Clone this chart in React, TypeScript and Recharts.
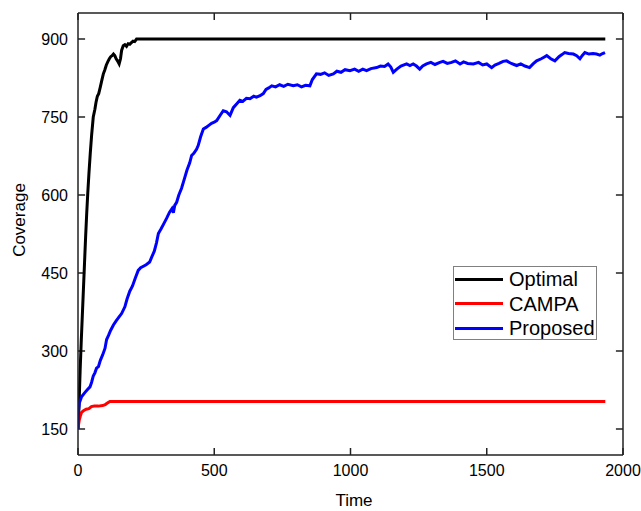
import React from 'react';
import { LineChart, Line, XAxis, YAxis, Legend, Label, ReferenceLine } from 'recharts';

const FONT = '"Liberation Sans", Arial, Helvetica, sans-serif';

const xTicks = [0, 500, 1000, 1500, 2000];
const yTicks = [150, 300, 450, 600, 750, 900];
const xDomain = [0, 2000];
const yDomain = [100, 950];
const xTitle = 'Time';
const yTitle = 'Coverage';
const seriesNames = ['Optimal', 'CAMPA', 'Proposed'];
const seriesColors = ['#000000', '#ff0000', '#0000ff'];

// [time, coverage]
const optimalPoints: [number, number][] = [
  [0, 150], [4, 200], [8, 265], [12, 320], [16, 370], [20, 420], [24, 470], [28, 520],
  [32, 565], [36, 605], [40, 640], [45, 680], [50, 715], [56, 750], [62, 765], [66, 778],
  [71, 790], [76, 795], [82, 808], [88, 822], [93, 833], [98, 840], [104, 850], [110, 857],
  [115, 862], [120, 866], [125, 868], [130, 871], [135, 868], [140, 862], [145, 858],
  [151, 852], [156, 862], [160, 878], [166, 887], [172, 889], [178, 886], [184, 891],
  [190, 890], [196, 893], [202, 896], [208, 895], [215, 900], [1935, 900],
];

const campaPoints: [number, number][] = [
  [0, 150], [2, 158], [5, 168], [8, 174], [13, 182], [20, 185], [30, 188], [40, 189],
  [49, 193], [60, 194], [75, 194], [90, 195], [100, 197], [108, 200], [117, 203], [1935, 203],
];

const proposedPoints: [number, number][] = [
  [0, 150], [2, 185], [5, 200], [13, 212], [25, 220], [35, 226], [44, 231], [50, 240],
  [56, 252], [62, 258], [68, 267], [75, 270], [82, 282], [90, 292], [99, 305], [105, 322],
  [112, 330], [120, 340], [130, 350], [140, 358], [150, 365], [160, 372], [172, 385],
  [180, 400], [190, 415], [200, 425], [210, 440], [221, 455], [230, 460], [240, 463],
  [250, 466], [263, 471], [270, 480], [280, 492], [288, 508], [295, 526], [305, 535],
  [315, 545], [325, 555], [336, 567], [345, 574], [350, 566], [355, 580], [362, 586],
  [370, 600], [380, 613], [392, 634], [400, 648], [410, 662], [417, 676], [425, 680],
  [435, 688], [441, 695], [450, 712], [460, 727], [470, 730], [480, 734], [490, 738],
  [500, 740], [509, 743], [520, 752], [533, 762], [545, 760], [558, 753], [570, 768],
  [582, 775], [594, 782], [605, 780], [618, 786], [631, 785], [645, 790], [655, 788],
  [668, 791], [680, 795], [690, 803], [700, 806], [711, 810], [725, 808], [740, 812],
  [755, 809], [770, 813], [790, 810], [805, 812], [820, 808], [835, 811], [851, 810],
  [860, 822], [875, 833], [890, 832], [905, 835], [920, 830], [937, 833], [950, 838],
  [965, 836], [980, 841], [998, 839], [1015, 842], [1030, 838], [1045, 842], [1059, 839],
  [1075, 843], [1096, 845], [1110, 848], [1125, 847], [1138, 852], [1148, 846], [1157, 836],
  [1170, 842], [1185, 848], [1206, 852], [1218, 849], [1230, 852], [1242, 848], [1254, 842],
  [1265, 848], [1279, 852], [1295, 855], [1310, 851], [1328, 855], [1340, 857], [1355, 853],
  [1371, 855], [1385, 858], [1402, 852], [1415, 856], [1430, 853], [1451, 852], [1470, 855],
  [1485, 850], [1500, 852], [1518, 845], [1530, 850], [1545, 853], [1560, 857], [1573, 858],
  [1590, 853], [1600, 851], [1610, 849], [1625, 852], [1640, 848], [1657, 845], [1670, 852],
  [1683, 858], [1700, 862], [1710, 865], [1720, 868], [1735, 862], [1750, 858], [1765, 866],
  [1776, 870], [1786, 874], [1800, 872], [1818, 871], [1830, 868], [1842, 862], [1850, 868],
  [1860, 874], [1875, 871], [1890, 872], [1903, 871], [1915, 869], [1925, 872], [1934, 874],
];

const toData = (pts: [number, number][]) => pts.map(([t, v]) => ({ t, v }));
const seriesData = [toData(optimalPoints), toData(campaPoints), toData(proposedPoints)];
// every axis shares the same domain; Optimal is bound to the mirrored frame axes
const seriesXAxis = ['top', 'bottom', 'bottom'];
const seriesYAxis = ['right', 'left', 'left'];

const AXIS_COLOR = '#222';
const tickText = { fontSize: 16, fill: '#000', fontFamily: FONT };
// inward tick length, expressed in axis units (~7px)
const X_TICK_LEN = 13.5; // coverage units, for ticks on the bottom/top edges
const Y_TICK_LEN = 26; // time units, for ticks on the left/right edges

const LegendBox = () => (
  <div
    style={{
      width: 144,
      height: 74,
      border: '1px solid #808080',
      boxSizing: 'border-box',
      background: '#fff',
      fontFamily: FONT,
      fontSize: 20,
      color: '#000',
    }}
  >
    {seriesNames.map((n, i) => (
      <div key={n} style={{ display: 'flex', alignItems: 'center', height: 24.5, lineHeight: '24.5px' }}>
        <div style={{ width: 48, height: 3, background: seriesColors[i], marginLeft: 1, marginRight: 6 }} />
        <span>{n}</span>
      </div>
    ))}
  </div>
);

const YTitle = () => (
  <text x={19} y={220} transform="rotate(-90 19 220)" textAnchor="middle" dominantBaseline="central"
    style={{ fontSize: 17, fontFamily: FONT, fill: '#000' }}>{yTitle}</text>
);
const XTitle = () => (
  <text x={354} y={506} textAnchor="middle" style={{ fontSize: 17, fontFamily: FONT, fill: '#000' }}>{xTitle}</text>
);

export default function App() {
  const tickSegs: { key: string; seg: { x: number; y: number }[] }[] = [];
  xTicks.forEach((t) => {
    tickSegs.push({ key: `b${t}`, seg: [{ x: t, y: yDomain[0] }, { x: t, y: yDomain[0] + X_TICK_LEN }] });
    tickSegs.push({ key: `t${t}`, seg: [{ x: t, y: yDomain[1] }, { x: t, y: yDomain[1] - X_TICK_LEN }] });
  });
  yTicks.forEach((v) => {
    tickSegs.push({ key: `l${v}`, seg: [{ x: xDomain[0], y: v }, { x: xDomain[0] + Y_TICK_LEN, y: v }] });
    tickSegs.push({ key: `r${v}`, seg: [{ x: xDomain[1], y: v }, { x: xDomain[1] - Y_TICK_LEN, y: v }] });
  });

  return (
    <div style={{ position: 'absolute', left: 0, top: 0, width: 641, height: 511, background: '#fff' }}>
      <LineChart width={641} height={511} margin={{ top: 13, right: 18, bottom: 0, left: 0 }}>
        <XAxis
          xAxisId="bottom"
          dataKey="t"
          type="number"
          domain={xDomain}
          ticks={xTicks}
          allowDataOverflow
          height={56}
          tickSize={0}
          tickMargin={10}
          tickLine={false}
          tick={tickText}
          stroke={AXIS_COLOR}
          strokeWidth={1.5}
        >
          <Label content={<XTitle />} />
        </XAxis>
        <YAxis
          yAxisId="left"
          type="number"
          domain={yDomain}
          ticks={yTicks}
          allowDataOverflow
          width={78}
          tickSize={0}
          tickMargin={10}
          tickLine={false}
          tick={tickText}
          stroke={AXIS_COLOR}
          strokeWidth={1.5}
        >
          <Label content={<YTitle />} />
        </YAxis>
        <XAxis
          xAxisId="top"
          orientation="top"
          mirror
          dataKey="t"
          type="number"
          domain={xDomain}
          ticks={xTicks}
          allowDataOverflow
          height={10}
          tick={false}
          tickLine={false}
          stroke={AXIS_COLOR}
          strokeWidth={1.5}
        />
        <YAxis
          yAxisId="right"
          orientation="right"
          mirror
          type="number"
          domain={yDomain}
          ticks={yTicks}
          allowDataOverflow
          width={10}
          tick={false}
          tickLine={false}
          stroke={AXIS_COLOR}
          strokeWidth={1.5}
        />
        {tickSegs.map((s) => (
          <ReferenceLine
            key={s.key}
            xAxisId="bottom"
            yAxisId="left"
            segment={s.seg}
            stroke={AXIS_COLOR}
            strokeWidth={1.5}
            ifOverflow="visible"
          />
        ))}
        {seriesData.map((d, i) => (
          <Line
            key={seriesNames[i]}
            xAxisId={seriesXAxis[i]}
            yAxisId={seriesYAxis[i]}
            data={d}
            dataKey="v"
            name={seriesNames[i]}
            type="linear"
            stroke={seriesColors[i]}
            strokeWidth={3}
            dot={false}
            activeDot={false}
            isAnimationActive={false}
          />
        ))}
        <Legend
          layout="horizontal"
          verticalAlign="middle"
          align="center"
          content={<LegendBox />}
          wrapperStyle={{ position: 'absolute', left: 453, top: 266, width: 144, height: 74 }}
        />
      </LineChart>
    </div>
  );
}
